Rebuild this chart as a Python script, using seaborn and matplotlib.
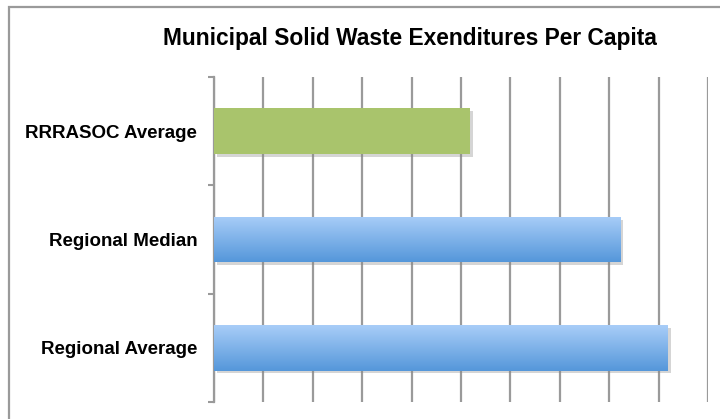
import matplotlib
matplotlib.use("Agg")
from matplotlib import pyplot as plt
from matplotlib import patheffects
from matplotlib.colors import LinearSegmentedColormap
from matplotlib.patches import Rectangle
import seaborn as sns
import pandas as pd
import numpy as np

# data (no axis values shown, scale 0-100)
categories = ["RRRASOC Average", "Regional Median", "Regional Average"]
spending = [51.8, 82.2, 91.9]
bar_colors = ["#A9C46C", "#7FB2EE", "#7FB2EE"]

df = pd.DataFrame({"category": categories, "spending": spending})

sns.set_style("white")
plt.rcParams["font.family"] = ["Liberation Sans", "DejaVu Sans"]
plt.rcParams["text.color"] = "black"
plt.rcParams["ytick.color"] = "#9A9A9A"
plt.rcParams["ytick.labelcolor"] = "black"

fig = plt.figure(figsize=(7.2, 4.19), dpi=100)
ax = fig.add_axes([214/720, 1 - 402/419, (708 - 214)/720, (402 - 77)/419])

sns.barplot(data=df, x="spending", y="category", hue="category", palette=bar_colors,
            orient="h", width=0.42, saturation=1, legend=False, ax=ax, zorder=3)

# blue gradient + soft shadow like the original
blue_grad = LinearSegmentedColormap.from_list("bg", ["#A8CDF8", "#5597DA"])
for i, p in enumerate(ax.patches):
    p.set_edgecolor("none")
    p.set_path_effects([patheffects.SimplePatchShadow(offset=(2, -2), shadow_rgbFace="#888888", alpha=0.35),
                        patheffects.Normal()])
    if i > 0:
        x0, y0 = p.get_x(), p.get_y()
        w, h = p.get_width(), p.get_height()
        grad = np.linspace(1, 0, 100).reshape(-1, 1)
        im = ax.imshow(grad, cmap=blue_grad, aspect="auto", extent=(x0, x0 + w, y0 + h, y0),
                       zorder=4, origin="lower")
        im.set_clip_path(p)

ax.set_xlim(0, 100)
ax.set_ylim(2.5, -0.5)
ax.set_xticks(np.arange(0, 101, 10))
ax.set_xticklabels([])
ax.tick_params(axis="x", length=0)
ax.xaxis.grid(True, color="#9A9A9A", linewidth=1.6, zorder=0)
ax.set_axisbelow(True)

ax.set_yticks([-0.5, 0.5, 1.5, 2.5])
ax.set_yticklabels([])
ax.set_yticks([0, 1, 2], minor=True)
ax.set_yticklabels(categories, minor=True, fontsize=13.5, fontweight="bold", color="black")
ax.tick_params(axis="y", which="major", left=True, length=4, width=1.5, color="#9A9A9A", direction="out")
ax.tick_params(axis="y", which="minor", left=True, length=0, pad=12)
ax.set_xlabel("")
ax.set_ylabel("")

for s in ["top", "right", "bottom"]:
    ax.spines[s].set_visible(False)
ax.spines["left"].set_color("#9A9A9A")
ax.spines["left"].set_linewidth(1.6)

fig.text(410/720, 1 - 38/419, "Municipal Solid Waste Exenditures Per Capita",
         ha="center", va="center", fontsize=16.4, fontweight="bold", color="black")

# outer chart frame (runs off the right and bottom edges)
fig.patches.append(Rectangle((9/720, -0.05), 1.1, 1 - 7/419 + 0.05, transform=fig.transFigure,
                             fill=False, edgecolor="#9A9A9A", linewidth=1.6))

fig.savefig("out.png", dpi=100)
